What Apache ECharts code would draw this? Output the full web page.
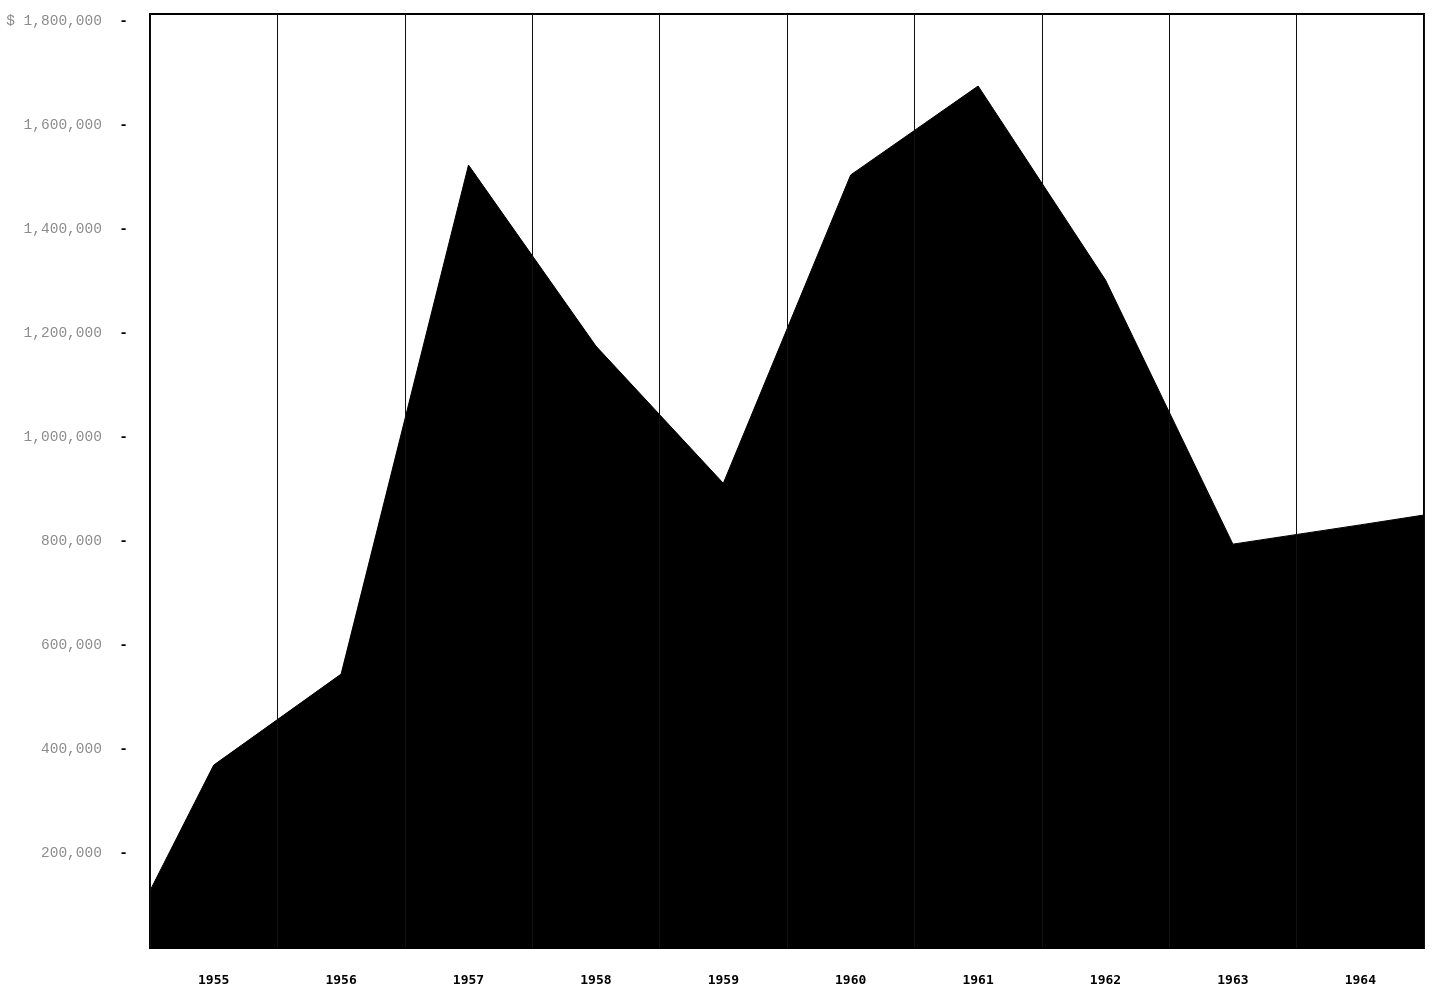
<!DOCTYPE html>
<html>
<head>
<meta charset="utf-8">
<script src="https://cdn.jsdelivr.net/npm/echarts@6/dist/echarts.min.js"></script>
<style>
html,body{margin:0;padding:0;background:#fff;}
#chart{width:1432px;height:988px;}
</style>
</head>
<body>
<div id="chart"></div>
<script>
// Year categories (labels centered in each year column)
var years = ['1955','1956','1957','1958','1959','1960','1961','1962','1963','1964'];
// Positions (in years) of the line's vertices; the outer ones sit at the chart edges
var pointYears = [1954.5, 1955, 1956, 1957, 1958, 1959, 1960, 1961, 1962, 1963, 1964, 1964.5];
// Dollar values
var values = [127500, 369000, 544000, 1523000, 1175000, 911000, 1504000, 1675000, 1302000, 794000, 831000, 850000];
// Y tick values that carry labels
var yTicks = [200000, 400000, 600000, 800000, 1000000, 1200000, 1400000, 1600000, 1800000];

var seriesData = pointYears.map(function (x, i) { return [x, values[i]]; });

function fmt(v) {
  return String(v).replace(/\B(?=(\d{3})+(?!\d))/g, ',');
}

var chart = echarts.init(document.getElementById('chart'), null, {renderer: 'canvas'});
chart.setOption({
  animation: false,
  backgroundColor: '#fff',
  grid: {
    left: 150, right: 8, top: 14, bottom: 40,
    show: true, borderColor: '#000', borderWidth: 2, backgroundColor: 'transparent'
  },
  xAxis: [{
    type: 'category',
    data: years,
    boundaryGap: true,
    position: 'bottom',
    axisLine: {show: false},
    axisTick: {show: false},
    splitLine: {show: true, interval: 0, lineStyle: {color: '#111', width: 1}},
    axisLabel: {
      interval: 0, margin: 26,
      fontFamily: 'DejaVu Sans Mono', fontWeight: 'bold', fontSize: 13, color: '#000'
    },
    z: 5
  }, {
    type: 'value',
    min: 1954.5, max: 1964.5,
    show: false
  }],
  yAxis: {
    type: 'value',
    min: 17300, max: 1813500,
    axisLine: {show: true, lineStyle: {color: '#000', width: 2}},
    axisTick: {show: false},
    splitLine: {show: false},
    axisLabel: {
      customValues: yTicks,
      margin: 22,
      formatter: function (v) {
        var s = (v === 1800000 ? '$ ' : '') + fmt(v);
        return '{v|' + s + '}{d|  -}';
      },
      rich: {
        v: {fontFamily: 'Liberation Mono', fontSize: 14.5, color: '#8c8c8c'},
        d: {fontFamily: 'Liberation Mono', fontSize: 14.5, color: '#000', fontWeight: 'bold'}
      }
    }
  },
  series: [{
    type: 'line',
    xAxisIndex: 1,
    data: seriesData,
    symbol: 'none',
    lineStyle: {color: '#000', width: 1},
    areaStyle: {color: '#000', opacity: 1, origin: 'start'},
    z: 2
  }]
});
</script>
</body>
</html>
